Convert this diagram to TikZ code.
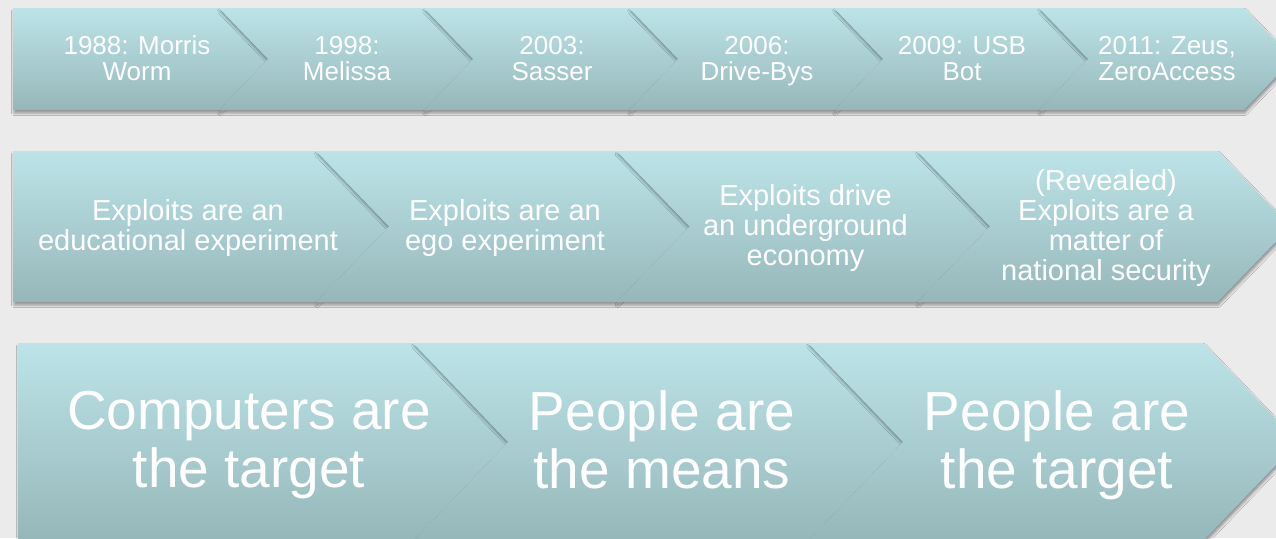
\documentclass[tikz,border=0pt]{standalone}
\usepackage{fontspec}
\setmainfont{Liberation Sans}
\usetikzlibrary{shadows.blur}

\definecolor{chevtop}{HTML}{BCE4E8}
\definecolor{chevbot}{HTML}{96B7BA}
\definecolor{slidebg}{HTML}{EBEBEB}

\tikzset{
  chevron/.style={top color=chevtop, bottom color=chevbot, draw=none,
    blur shadow={shadow xshift=1pt, shadow yshift=-3pt,
      shadow blur radius=2.5pt, shadow opacity=38}},
  chevtext/.style={text=white, align=center, inner sep=0pt,
    execute at begin node=\strut, execute at end node=\strut},
  yeartext/.style={chevtext, font=\fontsize{26}{26}\selectfont},
  phasetext/.style={chevtext, font=\fontsize{29}{30}\selectfont},
  targettext/.style={chevtext, font=\fontsize{55}{58}\selectfont}
}

\begin{document}
\begin{tikzpicture}[x=1pt, y=-1pt]
	\fill[slidebg] (0,0) rectangle (1276,538);
	\useasboundingbox (0,0) rectangle (1276,538);
	\clip (0,0) rectangle (1276,538);

	% row 1: years
	\path[chevron] (13,8) -- (219,8) -- (268,59) -- (219,110) -- (13,110) -- cycle;
	\foreach \i in {2,...,6}{
		\pgfmathsetmacro\tip{268+205*(\i-1)}
		\pgfmathsetmacro\prev{\tip-205}
		\path[chevron] (\prev-49,8) -- (\tip-49,8) -- (\tip,59) -- (\tip-49,110)
			-- (\prev-49,110) -- (\prev,59) -- cycle;
	}
	\node[yeartext] (year1) at (137,62) {1988: Morris\\Worm};
	\foreach \i/\txt in {2/{1998:\\Melissa}, 3/{2003:\\Sasser}, 4/{2006:\\Drive-Bys},
		5/{2009: USB\\Bot}, 6/{2011: Zeus,\\ZeroAccess}}{
		\node[yeartext] (year\i) at (347+205*\i-410,62) {\txt};
	}

	% row 2: motives
	\path[chevron] (13,151) -- (316,151) -- (389,226.5) -- (316,302) -- (13,302) -- cycle;
	\foreach \i in {2,...,4}{
		\pgfmathsetmacro\tip{389+300.5*(\i-1)}
		\pgfmathsetmacro\prev{\tip-300.5}
		\path[chevron] (\prev-73,151) -- (\tip-73,151) -- (\tip,226.5) -- (\tip-73,302)
			-- (\prev-73,302) -- (\prev,226.5) -- cycle;
	}
	\node[phasetext] (phase1) at (188,229) {Exploits are an\\educational experiment};
	\foreach \i/\txt in {2/{Exploits are an\\ego experiment},
		3/{Exploits drive\\an underground\\economy},
		4/{(Revealed)\\Exploits are a\\matter of\\national security}}{
		\node[phasetext] (phase\i) at (505+300.5*\i-601,229) {\txt};
	}

	% row 3: targets
	\path[chevron] (18,343) -- (413,343) -- (508,442) -- (413,541) -- (18,541) -- cycle;
	\foreach \i in {2,3}{
		\pgfmathsetmacro\tip{508+395*(\i-1)}
		\pgfmathsetmacro\prev{\tip-395}
		\path[chevron] (\prev-95,343) -- (\tip-95,343) -- (\tip,442) -- (\tip-95,541)
			-- (\prev-95,541) -- (\prev,442) -- cycle;
	}
	\node[targettext] (target1) at (249,448) {Computers are\\the target};
	\node[targettext] (target2) at (662,448) {People are\\the means};
	\node[targettext] (target3) at (1057,448) {People are\\the target};
\end{tikzpicture}
\end{document}
